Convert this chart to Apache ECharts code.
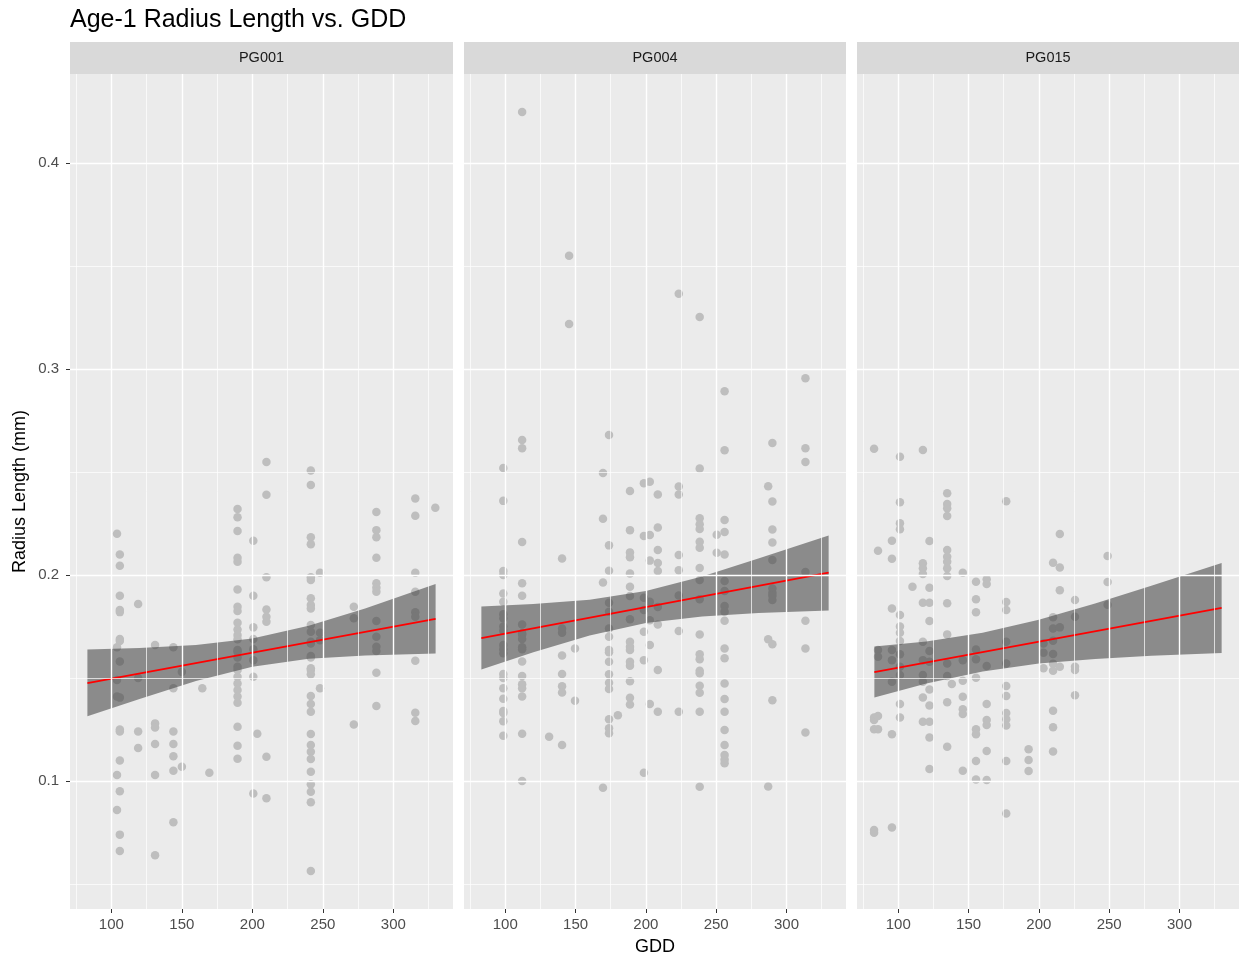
<!DOCTYPE html>
<html>
<head>
<meta charset="utf-8">
<script src="https://cdn.jsdelivr.net/npm/echarts@6/dist/echarts.min.js"></script>
<style>
html,body{margin:0;padding:0;background:#fff;}
#chart{width:1239px;height:961px;}
</style>
</head>
<body>
<div id="chart"></div>
<script>
// ---------- DATA ----------
const chartTitle = 'Age-1 Radius Length vs. GDD';
const panelNames = ['PG001', 'PG004', 'PG015'];
const xTicks = [100, 150, 200, 250, 300];
const xMinor = [75, 125, 175, 225, 275, 325];
const yTicks = [0.1, 0.2, 0.3, 0.4];
const yMinor = [0.05, 0.15, 0.25, 0.35];
const xRange = [70.65, 342.35];
const yRange = [0.0379, 0.4432];

// points grouped by GDD column: [GDD, [radius values]]
const pg001 = [
  [104, [0.220, 0.165, 0.149, 0.141, 0.103, 0.086]],
  [106, [0.210, 0.2045, 0.190, 0.183, 0.182, 0.169, 0.168, 0.158, 0.1405, 0.125, 0.124, 0.110, 0.095, 0.074, 0.066]],
  [119, [0.186, 0.150, 0.124, 0.116]],
  [131, [0.166, 0.128, 0.126, 0.118, 0.103, 0.064]],
  [144, [0.165, 0.145, 0.124, 0.118, 0.112, 0.105, 0.080]],
  [150, [0.153, 0.107]],
  [164.5, [0.145]],
  [169.5, [0.104]],
  [189.5, [0.232, 0.228, 0.2214, 0.2084, 0.2065, 0.193, 0.1846, 0.1825, 0.1768, 0.1736, 0.1709, 0.1688, 0.1636, 0.1628, 0.160, 0.1555, 0.1539, 0.1506, 0.1474, 0.1442, 0.141, 0.138, 0.1264, 0.1171, 0.1108]],
  [200.7, [0.2167, 0.190, 0.1746, 0.169, 0.164, 0.1587, 0.1506, 0.094]],
  [203.5, [0.123]],
  [210, [0.2549, 0.239, 0.1989, 0.1833, 0.1798, 0.1773, 0.1118, 0.0916]],
  [241.5, [0.2508, 0.2437, 0.2183, 0.215, 0.1989, 0.1976, 0.1887, 0.1854, 0.1838, 0.1757, 0.1725, 0.1676, 0.1668, 0.1607, 0.160, 0.1547, 0.1539, 0.1518, 0.1413, 0.1374, 0.1336, 0.1228, 0.1175, 0.1142, 0.1107, 0.1045, 0.0984, 0.0948, 0.0897, 0.0563]],
  [248, [0.2011, 0.172, 0.1684, 0.145]],
  [272, [0.1846, 0.179, 0.1275]],
  [288, [0.2306, 0.2218, 0.2183, 0.2084, 0.196, 0.1938, 0.1919, 0.1777, 0.170, 0.1652, 0.1631, 0.1526, 0.1364]],
  [315.6, [0.2372, 0.2288, 0.2011, 0.1919, 0.1819, 0.1798, 0.1584, 0.1332, 0.1291]],
  [329.8, [0.2327]]
];
const pg004 = [
  [98.6, [0.252, 0.236, 0.202, 0.200, 0.191, 0.187, 0.181, 0.179, 0.175, 0.173, 0.166, 0.164, 0.162, 0.152, 0.150, 0.145, 0.140, 0.134, 0.133, 0.129, 0.122]],
  [112, [0.4248, 0.2655, 0.2615, 0.216, 0.196, 0.190, 0.176, 0.1717, 0.171, 0.169, 0.165, 0.164, 0.158, 0.151, 0.147, 0.145, 0.141, 0.123, 0.100]],
  [131.2, [0.1215]],
  [140.4, [0.208, 0.174, 0.172, 0.161, 0.152, 0.146, 0.143, 0.1175]],
  [145.4, [0.355, 0.3218]],
  [149.6, [0.1644, 0.139]],
  [169.5, [0.2495, 0.2273, 0.1964, 0.0967]],
  [173.8, [0.268, 0.2144, 0.2021, 0.1866, 0.1822, 0.1741, 0.170, 0.1636, 0.1625, 0.1579, 0.1518, 0.1477, 0.1447, 0.130, 0.1256, 0.1232]],
  [180.1, [0.132]],
  [188.7, [0.2408, 0.2218, 0.211, 0.2086, 0.2008, 0.1943, 0.1898, 0.1785, 0.1676, 0.1652, 0.1636, 0.1579, 0.156, 0.1485, 0.1404, 0.1372]],
  [198.6, [0.2445, 0.219, 0.189, 0.183, 0.1725, 0.1587, 0.104]],
  [202.8, [0.2453, 0.2194, 0.207, 0.187, 0.178, 0.166, 0.1374]],
  [208.5, [0.2391, 0.2231, 0.2121, 0.2058, 0.202, 0.1845, 0.176, 0.1539, 0.1337]],
  [223.4, [0.3365, 0.243, 0.2391, 0.2097, 0.2023, 0.1901, 0.1728, 0.1337]],
  [238.3, [0.3252, 0.2517, 0.2276, 0.2246, 0.2223, 0.2161, 0.2133, 0.2034, 0.1976, 0.1882, 0.1711, 0.1615, 0.1591, 0.1535, 0.1523, 0.1463, 0.1429, 0.1337, 0.0972]],
  [250.4, [0.2196, 0.2108]],
  [256, [0.2892, 0.2606, 0.2267, 0.2209, 0.21, 0.1971, 0.1922, 0.185, 0.1822, 0.1778, 0.1644, 0.1596, 0.1474, 0.1398, 0.1337, 0.1248, 0.1175, 0.1126, 0.1105, 0.1086]],
  [287, [0.2431, 0.1688, 0.0974]],
  [290, [0.2641, 0.2357, 0.2221, 0.2158, 0.2073, 0.1935, 0.1914, 0.19, 0.1879, 0.1664, 0.1392]],
  [313.5, [0.2955, 0.2615, 0.2549, 0.2015, 0.1778, 0.1644, 0.1236]]
];
const pg015 = [
  [82.8, [0.2613, 0.1309, 0.1296, 0.1251, 0.0762, 0.0749]],
  [85.6, [0.2118, 0.1636, 0.1603, 0.1316, 0.1251]],
  [95.5, [0.2166, 0.2079, 0.1838, 0.1636, 0.1587, 0.1482, 0.1227, 0.0775]],
  [101.2, [0.2574, 0.2353, 0.2251, 0.2222, 0.1806, 0.175, 0.172, 0.168, 0.1615, 0.1555, 0.1515, 0.1374, 0.1309]],
  [110.1, [0.1943]],
  [117.5, [0.2607, 0.2057, 0.2033, 0.2005, 0.1866, 0.1676, 0.1587, 0.1515, 0.1482, 0.1406, 0.1288]],
  [122.2, [0.2165, 0.1938, 0.1866, 0.1777, 0.1631, 0.1579, 0.1445, 0.1367, 0.1288, 0.1212, 0.1058]],
  [134.8, [0.2397, 0.2345, 0.2324, 0.2286, 0.2121, 0.2089, 0.2065, 0.2033, 0.1995, 0.1863, 0.1712, 0.1571, 0.151, 0.1383, 0.1167]],
  [138.1, [0.1471]],
  [145.9, [0.2011, 0.1587, 0.1487, 0.1409, 0.1348, 0.1325, 0.105]],
  [155.3, [0.1968, 0.1883, 0.1819, 0.1639, 0.1591, 0.1502, 0.1251, 0.1227, 0.1097, 0.1008]],
  [162.9, [0.1979, 0.1956, 0.1558, 0.1374, 0.1296, 0.1272, 0.1146, 0.1005]],
  [176.8, [0.2358, 0.1869, 0.183, 0.1676, 0.1571, 0.1461, 0.1413, 0.133, 0.130, 0.127, 0.1097, 0.0843]],
  [192.7, [0.1154, 0.1102, 0.1049]],
  [203.3, [0.1668, 0.1623, 0.1547]],
  [210.1, [0.206, 0.1795, 0.1741, 0.1681, 0.1617, 0.157, 0.1536, 0.1341, 0.1261, 0.1143]],
  [214.9, [0.2199, 0.2037, 0.1926, 0.1746, 0.1555]],
  [225.7, [0.1879, 0.1798, 0.1555, 0.1539, 0.1417]],
  [248.9, [0.2092, 0.1966, 0.1856]]
];

// fitted line end points [GDD, radius]
const fit001 = [[83, 0.1475], [330, 0.1787]];
const fit004 = [[83, 0.1694], [330, 0.2012]];
const fit015 = [[83, 0.1529], [330, 0.1841]];

// confidence band edges read at these GDD values
const bandX = [83, 120, 160, 200, 240, 280, 330];
const band001Upper = [0.1639, 0.1646, 0.1660, 0.1692, 0.1754, 0.1838, 0.1956];
const band001Lower = [0.1314, 0.1398, 0.1486, 0.1555, 0.1594, 0.1610, 0.1619];
const band004Upper = [0.1847, 0.1859, 0.1880, 0.1923, 0.1993, 0.2080, 0.2192];
const band004Lower = [0.1541, 0.1625, 0.1706, 0.1767, 0.1799, 0.1816, 0.1828];
const band015Upper = [0.1653, 0.1677, 0.1720, 0.1783, 0.1862, 0.1948, 0.2059];
const band015Lower = [0.1405, 0.1474, 0.1532, 0.1571, 0.1593, 0.1608, 0.1621];

// ---------- BUILD ----------
const FONT = '"Liberation Sans", Arial, Helvetica, sans-serif';
const panels = [
  {name: panelNames[0], pts: pg001, fit: fit001, up: band001Upper, lo: band001Lower},
  {name: panelNames[1], pts: pg004, fit: fit004, up: band004Upper, lo: band004Lower},
  {name: panelNames[2], pts: pg015, fit: fit015, up: band015Upper, lo: band015Lower}
];
const gridLefts = [70, 464, 857];
const gridWidths = [383, 382, 382];
const gridTop = 74, gridHeight = 835;

const grids = [], xAxes = [], yAxes = [], series = [], graphics = [];

panels.forEach((p, i) => {
  grids.push({left: gridLefts[i], top: gridTop, width: gridWidths[i], height: gridHeight,
    show: true, backgroundColor: '#EBEBEB', borderWidth: 0, containLabel: false});
  xAxes.push({
    type: 'value', gridIndex: i, min: xRange[0], max: xRange[1],
    axisLine: {show: false},
    axisTick: {show: true, length: 4, lineStyle: {color: '#333333', width: 1}, customValues: xTicks},
    axisLabel: {show: true, color: '#4D4D4D', fontSize: 15, fontFamily: FONT, margin: 8, customValues: xTicks},
    splitLine: {show: false},
    name: i === 1 ? 'GDD' : '', nameLocation: 'middle', nameGap: 29,
    nameTextStyle: {color: '#000', fontSize: 18, fontFamily: FONT}
  });
  yAxes.push({
    type: 'value', gridIndex: i, min: yRange[0], max: yRange[1],
    axisLine: {show: false},
    axisTick: {show: i === 0, length: 4, lineStyle: {color: '#333333', width: 1}, customValues: yTicks},
    axisLabel: {show: i === 0, color: '#4D4D4D', fontSize: 15, fontFamily: FONT, margin: 11, customValues: yTicks},
    splitLine: {show: false},
    name: i === 0 ? 'Radius Length (mm)' : '', nameLocation: 'middle', nameGap: 41,
    nameTextStyle: {color: '#000', fontSize: 18, fontFamily: FONT}
  });

  // grid lines (drawn through the axes with markLine)
  const ml = [];
  xMinor.forEach(v => ml.push({xAxis: v, lineStyle: {width: 0.7}}));
  yMinor.forEach(v => ml.push({yAxis: v, lineStyle: {width: 0.7}}));
  xTicks.forEach(v => ml.push({xAxis: v, lineStyle: {width: 1.4}}));
  yTicks.forEach(v => ml.push({yAxis: v, lineStyle: {width: 1.4}}));
  series.push({
    type: 'line', xAxisIndex: i, yAxisIndex: i, data: [], z: 1, silent: true,
    markLine: {silent: true, symbol: ['none', 'none'], label: {show: false}, animation: false,
      lineStyle: {color: '#FFFFFF', type: 'solid', width: 1.4}, emphasis: {disabled: true}, data: ml}
  });

  // points
  const data = [];
  p.pts.forEach(([g, vals]) => vals.forEach(v => data.push([g, v])));
  series.push({
    type: 'scatter', xAxisIndex: i, yAxisIndex: i, data: data, z: 2,
    symbol: 'circle', symbolSize: 8.5, itemStyle: {color: '#BEBEBE', opacity: 1},
    silent: true, animation: false
  });

  // confidence band
  const bandData = bandX.map((x, k) => [x, p.up[k], p.lo[k]]);
  series.push({
    type: 'custom', xAxisIndex: i, yAxisIndex: i, z: 3, silent: true, animation: false,
    data: bandData, encode: {x: 0, y: [1, 2]},
    renderItem: (params, api) => {
      if (params.dataIndex !== 0) return null;
      const pts = [];
      for (let k = 0; k < bandData.length; k++) pts.push(api.coord([bandData[k][0], bandData[k][1]]));
      for (let k = bandData.length - 1; k >= 0; k--) pts.push(api.coord([bandData[k][0], bandData[k][2]]));
      return {type: 'polygon', shape: {points: pts}, style: {fill: 'rgba(60,60,60,0.55)'}};
    }
  });

  // fitted line
  series.push({
    type: 'line', xAxisIndex: i, yAxisIndex: i, data: p.fit, z: 4, silent: true,
    symbol: 'none', lineStyle: {color: '#FF0000', width: 1.7}, animation: false
  });

  // strip
  graphics.push({type: 'rect', x: gridLefts[i], y: 42, shape: {x: 0, y: 0, width: gridWidths[i], height: 32},
    style: {fill: '#D9D9D9'}, silent: true, z: 10});
  graphics.push({type: 'text', x: gridLefts[i] + gridWidths[i] / 2, y: 58,
    style: {text: p.name, fill: '#1A1A1A', font: '14.5px ' + FONT, align: 'center', verticalAlign: 'middle',
      textAlign: 'center', textVerticalAlign: 'middle'},
    silent: true, z: 11});
});

const chart = echarts.init(document.getElementById('chart'), null, {renderer: 'canvas'});
chart.setOption({
  backgroundColor: '#FFFFFF',
  animation: false,
  title: {text: chartTitle, left: 65, top: 3,
    textStyle: {color: '#000', fontSize: 25, fontWeight: 'normal', fontFamily: FONT}},
  grid: grids, xAxis: xAxes, yAxis: yAxes, series: series,
  graphic: {elements: graphics}
});
</script>
</body>
</html>
